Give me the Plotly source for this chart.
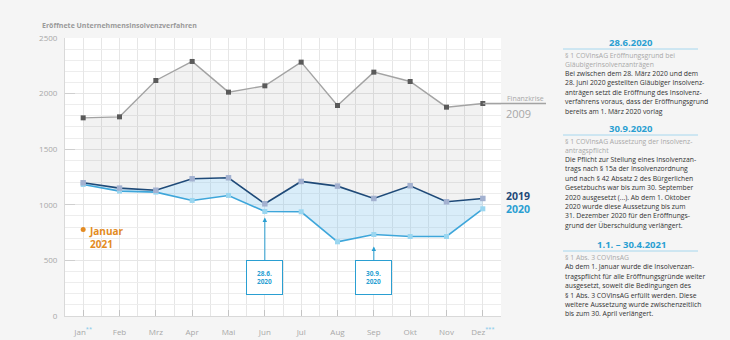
import plotly.graph_objects as go

# ---------------- data ----------------
MONTHS = ["Jan", "Feb", "Mrz", "Apr", "Mai", "Jun", "Jul", "Aug", "Sep", "Okt", "Nov", "Dez"]
MONTH_SUP = {0: "**", 11: "***"}
V2009 = [1782, 1791, 2118, 2289, 2013, 2070, 2283, 1893, 2193, 2109, 1878, 1911]
V2019 = [1198, 1150, 1131, 1234, 1243, 1009, 1210, 1168, 1057, 1171, 1027, 1057]
V2020 = [1183, 1123, 1114, 1039, 1084, 940, 937, 667, 733, 715, 715, 964]
JAN2021 = [778]
YTICKS = [0, 500, 1000, 1500, 2000, 2500]
Y_MAX = 2500

TITLE = "Eröffnete Unternehmensinsolvenzverfahren"
BLOCKS = [
    ("28.6.2020",
     ["§ 1 COVInsAG Eröffnungsgrund bei", "Gläubigerinsolvenzanträgen"],
     ["Bei zwischen dem 28. März 2020 und dem",
      "28. Juni 2020 gestellten Gläubiger Insolvenz-",
      "anträgen setzt die Eröffnung des Insolvenz-",
      "verfahrens voraus, dass der Eröffnungsgrund",
      "bereits am 1. März 2020 vorlag"]),
    ("30.9.2020",
     ["§ 1 COVInsAG Aussetzung der Insolvenz-", "antragspflicht"],
     ["Die Pflicht zur Stellung eines Insolvenzan-",
      "trags nach § 15a der Insolvenzordnung",
      "und nach § 42 Absatz 2 des Bürgerlichen",
      "Gesetzbuchs war bis zum 30. September",
      "2020 ausgesetzt (...). Ab dem 1. Oktober",
      "2020 wurde diese Aussetzung bis zum",
      "31. Dezember 2020 für den Eröffnungs-",
      "grund der Überschuldung verlängert."]),
    ("1.1. – 30.4.2021",
     ["§ 1 Abs. 3 COVInsAG"],
     ["Ab dem 1. Januar wurde die Insolvenzan-",
      "tragspflicht für alle Eröffnungsgründe weiter",
      "ausgesetzt, soweit die Bedingungen des",
      "§ 1 Abs. 3 COVInsAG erfüllt werden. Diese",
      "weitere Aussetzung wurde zwischenzeitlich",
      "bis zum 30. April verlängert."]),
]

# ---------------- style ----------------
FONT = "Open Sans"
C2009, C2009M = "#a3a3a3", "#5a5a5a"
C2019, C2019M = "#1f4a78", "#a3b1d0"
C2020, C2020M = "#3ea6da", "#9ad6f0"
CORANGE = "#e38b22"
CTEAL = "#2a9fd2"
GRID = "#e6e6e6"

W, H = 730, 340
L, R, T, B = 65, 229, 38, 24
PW, PH = W - L - R, H - T - B


def px(x):
    return (x - L) / PW


def py(y):
    return (H - B - y) / PH


x = list(range(len(MONTHS)))
ticktext = [m + (f"<sup><span style='color:#7cc6ea'>{MONTH_SUP[i]}</span></sup>" if i in MONTH_SUP else "")
            for i, m in enumerate(MONTHS)]

fig = go.Figure()
fig.add_trace(go.Scatter(x=x, y=V2020, mode="lines+markers",
                         line=dict(color=C2020, width=1.6),
                         marker=dict(symbol="square", size=5, color=C2020M),
                         hoverinfo="skip"))
fig.add_trace(go.Scatter(x=x, y=V2019, mode="lines+markers", fill="tonexty",
                         fillcolor="rgba(120,190,235,0.28)",
                         line=dict(color=C2019, width=1.6),
                         marker=dict(symbol="square", size=5.5, color=C2019M),
                         hoverinfo="skip"))
fig.add_trace(go.Scatter(x=x, y=V2009, mode="lines+markers", fill="tonexty",
                         fillcolor="rgba(0,0,0,0.05)",
                         line=dict(color=C2009, width=1.4),
                         marker=dict(symbol="square", size=5, color=C2009M),
                         hoverinfo="skip"))
fig.add_trace(go.Scatter(x=[0], y=JAN2021, mode="markers",
                         marker=dict(symbol="circle", size=5, color=CORANGE),
                         hoverinfo="skip"))

ann = []
shapes = []

# extension of 2009 line to the "Finanzkrise" label
shapes.append(dict(type="line", xref="paper", yref="paper",
                   x0=(x[-1] + 0.5) / len(MONTHS), x1=px(546),
                   y0=V2009[-1] / Y_MAX, y1=V2009[-1] / Y_MAX,
                   line=dict(color=C2009, width=1.4), layer="above"))


def txt(xp, yp, s, size, color, weight=400, xanchor="left"):
    ann.append(dict(xref="paper", yref="paper", x=px(xp), y=py(yp), text=s,
                    showarrow=False, xanchor=xanchor, yanchor="middle",
                    font=dict(family=FONT, size=size, color=color, weight=weight)))


# title
txt(40, 25, TITLE, 7, "#9a9a9a", 700)

# series labels
txt(505, 98, "Finanzkrise", 7, "#a8a8a8")
txt(504, 114, "2009", 11, "#a8a8a8")
txt(504, 196, "2019", 10.5, C2019, 700)
txt(504, 208.5, "2020", 10.5, CTEAL, 700)

# Januar 2021 label
ann.append(dict(x=0, y=JAN2021[0], xref="x", yref="y", text="Januar<br>2021",
                showarrow=False, xanchor="left", yanchor="top", xshift=4, yshift=7,
                align="left", font=dict(family=FONT, size=10, color=CORANGE, weight=700)))

# boxes with arrows
for idx, lab, ay, stand in [(5, "28.6.<br>2020", 66, 6), (8, "30.9.<br>2020", 43, 12)]:
    ann.append(dict(x=idx, y=V2020[idx], xref="x", yref="y", text=lab,
                    showarrow=True, ax=0, ay=ay, axref="pixel", ayref="pixel",
                    arrowhead=2, arrowsize=0.9, arrowwidth=1, arrowcolor=CTEAL,
                    standoff=stand, bordercolor=CTEAL, borderwidth=1, borderpad=0,
                    bgcolor="white", width=35, height=33,
                    font=dict(family=FONT, size=6.5, color=CTEAL, weight=700)))

# right panel
heads_y = [42, 128, 244]
step = 9.4
for (head, subs, body), hy in zip(BLOCKS, heads_y):
    txt(631, hy, head, 9.5, CTEAL, 700, xanchor="center")
    shapes.append(dict(type="line", xref="paper", yref="paper",
                       x0=px(563), x1=px(698), y0=py(hy + 7), y1=py(hy + 7),
                       line=dict(color="#a6d7ee", width=1)))
    yy = hy + 13.5
    for s in subs:
        txt(563, yy, s, 6.8, "#a9a9a9")
        yy += step - 0.8
    yy += 0.8
    for s in body:
        txt(563, yy, s, 6.8, "#333333")
        yy += step

fig.update_layout(
    width=W, height=H,
    margin=dict(l=L, r=R, t=T, b=B, pad=0, autoexpand=False),
    paper_bgcolor="#f5f5f5", plot_bgcolor="white",
    showlegend=False, hovermode=False,
    font=dict(family=FONT),
    annotations=ann, shapes=shapes,
    xaxis=dict(range=[-0.5, len(MONTHS) - 0.5], tickvals=x, ticktext=ticktext,
               automargin=False,
               ticks="inside", ticklen=6, tickcolor="#c4c4c4", tickwidth=1,
               showgrid=True, gridcolor=GRID, zeroline=False,
               showline=True, linecolor="#d9d9d9", linewidth=1,
               tickfont=dict(size=8, color="#a8a8a8"), ticklabelstandoff=8,
               minor=dict(tickvals=[i + 0.5 for i in range(-1, len(MONTHS))],
                          showgrid=True, gridcolor=GRID, ticks="")),
    yaxis=dict(range=[0, Y_MAX], tickvals=YTICKS, automargin=False,
               ticks="inside", ticklen=10, tickcolor="#cfcfcf", tickwidth=1,
               showgrid=True, gridcolor=GRID, zeroline=False,
               showline=True, linecolor="#d9d9d9", linewidth=1,
               tickfont=dict(size=8, color="#a8a8a8"), ticklabelstandoff=5,
               minor=dict(dtick=100, showgrid=True, gridcolor="#ededed", ticks="")),
)

fig.write_html("out.html")
